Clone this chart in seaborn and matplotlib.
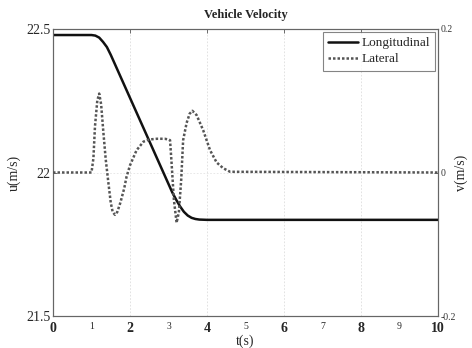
import matplotlib
matplotlib.use("Agg")
import matplotlib.pyplot as plt
import seaborn as sns
import pandas as pd
from matplotlib.lines import Line2D

# Data
t_long = [0.0, 1.0, 1.1, 1.2, 1.3, 1.4, 1.5, 2.0, 2.5, 3.0, 3.1, 3.2, 3.3, 3.4, 3.5,
          3.6, 3.7, 3.8, 4.0, 10.0]
u_long = [22.479, 22.479, 22.477, 22.470, 22.455, 22.437, 22.410, 22.260, 22.110,
          21.960, 21.930, 21.905, 21.882, 21.863, 21.850, 21.842, 21.838, 21.836,
          21.835, 21.835]

t_lat = [0.0, 1.0, 1.05, 1.09, 1.15, 1.2, 1.25, 1.31, 1.37, 1.44, 1.5, 1.55, 1.61,
         1.67, 1.75, 1.85, 1.91, 2.0, 2.17, 2.35, 2.5, 2.7, 2.9, 3.0, 3.04, 3.08,
         3.14, 3.21, 3.27, 3.33, 3.38, 3.47, 3.55, 3.62, 3.73, 3.9, 4.08, 4.25,
         4.42, 4.6, 10.0]
v_lat = [0.0, 0.0, 0.02, 0.064, 0.100, 0.110, 0.095, 0.055, 0.018, -0.015, -0.042,
         -0.055, -0.059, -0.055, -0.042, -0.022, -0.006, 0.010, 0.031, 0.043, 0.046,
         0.047, 0.047, 0.046, 0.045, 0.013, -0.038, -0.070, -0.055, -0.010, 0.045,
         0.069, 0.082, 0.086, 0.080, 0.059, 0.031, 0.014, 0.006, 0.001, 0.0]

x_ticks = list(range(0, 11))
left_ticks = [21.5, 22.0, 22.5]
left_labels = ["21.5", "22", "22.5"]
right_ticks = [-0.2, 0.0, 0.2]
right_labels = ["-0.2", "0", "0.2"]

sns.set_theme(style="white")
plt.rcParams['font.family'] = ['Liberation Serif', 'DejaVu Serif']

fig = plt.figure(figsize=(4.72, 3.48), dpi=100)
ax = fig.add_axes([53/472, 1-316/348, (438-53)/472, (316-29)/348])
ax2 = ax.twinx()

df_long = pd.DataFrame({"t": t_long, "u": u_long})
df_lat = pd.DataFrame({"t": t_lat, "v": v_lat})

sns.lineplot(data=df_long, x="t", y="u", ax=ax, color="#111111", linewidth=1.8,
             zorder=3)
sns.lineplot(data=df_lat, x="t", y="v", ax=ax2, color="#555555", linewidth=1.8,
             linestyle=(0, (1, 0.8)), zorder=3)

ax.set_xlim(0, 10)
ax.set_ylim(21.5, 22.5)
ax2.set_ylim(-0.2, 0.2)

# grid
for xv in [2, 4, 6, 8]:
    ax.axvline(xv, color="#dddddd", linewidth=0.6, linestyle=(0, (2, 2)), zorder=0)
ax.axhline(22.0, color="#e4e4e4", linewidth=0.6, linestyle=(0, (2, 2)), zorder=0)

ax.set_xticks(x_ticks)
ax.set_xticklabels([str(v) for v in x_ticks])
for v, lab in zip(x_ticks, ax.get_xticklabels()):
    if v % 2 == 0:
        lab.set_fontsize(10)
        lab.set_fontweight("bold")
    else:
        lab.set_fontsize(7)
ax.set_yticks(left_ticks)
ax.set_yticklabels(left_labels, fontsize=10)
ax2.set_yticks(right_ticks)
ax2.set_yticklabels(right_labels, fontsize=7, color="#333333")

ax.tick_params(axis="x", direction="in", length=3, width=0.6, color="#555555",
               pad=4, top=False)
ax.tick_params(axis="y", direction="in", length=3, width=0.6, color="#555555", pad=2)
ax2.tick_params(axis="y", direction="in", length=3, width=0.6, color="#555555", pad=2)

secx = ax.secondary_xaxis("top")
secx.set_xticks([2, 4, 6, 8])
secx.set_xticklabels([])
secx.tick_params(direction="in", length=3, width=0.6, color="#555555")
secx.spines["top"].set_visible(False)

for a in (ax, ax2):
    for s in a.spines.values():
        s.set_color("#666666")
        s.set_linewidth(0.8)

ax.set_xlabel("t(s)", fontsize=10, labelpad=0)
ax.set_ylabel("u(m/s)", fontsize=10, labelpad=4)
ax2.set_ylabel("v(m/s)", fontsize=10)
ax2.yaxis.set_label_coords(1.042, 0.5)
ax.set_title("Vehicle Velocity", fontsize=9, fontweight="bold", pad=8)

handles = [Line2D([], [], color="#111111", linewidth=1.8),
           Line2D([], [], color="#555555", linewidth=1.8, linestyle=(0, (1, 0.8)))]
leg = ax2.legend(handles, ["Longitudinal", "Lateral"], loc="upper right",
                 fontsize=9.5, frameon=True, fancybox=False, borderaxespad=0.2,
                 handlelength=2.3, handletextpad=0.25, borderpad=0.4,
                 labelspacing=0.3)
leg.get_frame().set_edgecolor("#666666")
leg.get_frame().set_linewidth(0.8)

fig.savefig("out.png", dpi=100)
